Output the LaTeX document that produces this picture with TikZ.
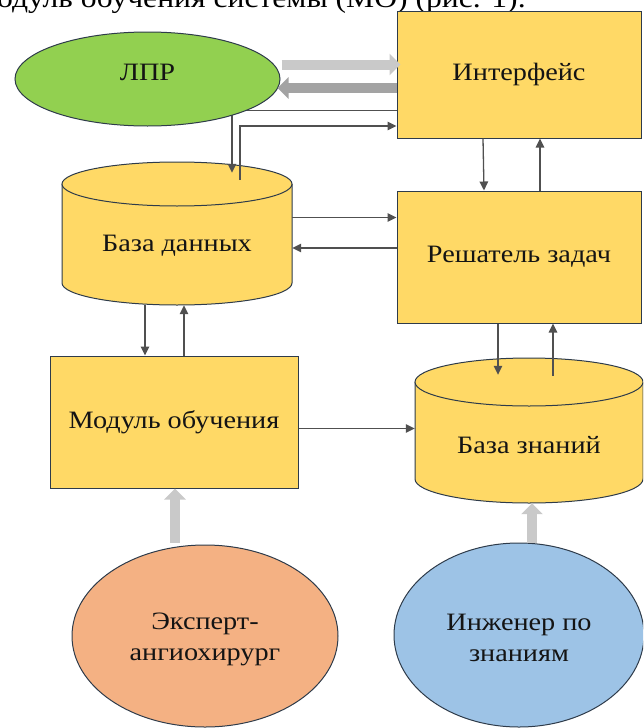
\documentclass[tikz,border=0pt]{standalone}
\usepackage{fontspec}
\setmainfont[FakeStretch=1.13]{Liberation Serif}
\usetikzlibrary{arrows.meta,shapes.geometric,calc}
\definecolor{lprgreen}{HTML}{92D050}
\definecolor{boxyellow}{HTML}{FFD966}
\definecolor{exporange}{HTML}{F4B183}
\definecolor{engblue}{HTML}{9DC3E6}
\definecolor{edgecol}{HTML}{2E3B4A}
\definecolor{thincol}{HTML}{505050}
\definecolor{thicklight}{HTML}{C9C9C9}
\definecolor{thickdark}{HTML}{A3A3A3}
\definecolor{txt}{HTML}{141414}
\begin{document}
\begin{tikzpicture}[x=1pt,y=-1pt,
  lbl/.style={text=txt,font=\fontsize{25}{31}\selectfont,align=center,inner sep=0pt},
  blk/.style={lbl,rectangle,draw=edgecol,line width=1pt,fill=boxyellow},
  ell/.style={lbl,ellipse,draw=edgecol,line width=1pt},
  cyl/.style={draw=edgecol,line width=1pt,fill=boxyellow},
  thinA/.style={draw=thincol,line width=1.3pt,-{Triangle[length=9pt,width=8.5pt]}},
  thickA/.style={draw=thicklight,line width=10pt,-{Triangle[length=11pt,width=21pt]}},
  thickB/.style={draw=thickdark,line width=10pt,-{Triangle[length=11pt,width=21pt]}}]
\useasboundingbox (0,0) rectangle (643,728);
\clip (0,0) rectangle (643,728);

% caption fragment at the top
\node[anchor=base west,inner sep=0pt,text=black,font=\fontsize{28}{30}\selectfont] (cap) at (-3,7) {одуль обучения системы (МО) (рис. 1).};

% boxes
\node[blk,minimum width=244pt,minimum height=127pt] (intf) at (519,74.5) {Интерфейс};
\node[blk,minimum width=244pt,minimum height=132pt] (solver) at (519,257) {Решатель задач};
\node[blk,minimum width=248pt,minimum height=132pt] (learn) at (174,422) {Модуль обучения};

% database cylinder
\draw[cyl] (62,184) -- (62,283) arc[start angle=180,end angle=0,x radius=115,y radius=22] -- (292,184);
\draw[cyl] (177,184) ellipse[x radius=115,y radius=22];
\node[lbl,minimum width=230pt,minimum height=118pt] (db) at (177,246) {База данных};

% knowledge base cylinder
\draw[cyl] (415,382) -- (415,479) arc[start angle=180,end angle=0,x radius=114,y radius=24] -- (643,382);
\draw[cyl] (529,382) ellipse[x radius=114,y radius=24];
\node[lbl,minimum width=228pt,minimum height=116pt] (kb) at (529,445) {База знаний};

% thin connectors interface <-> database
\draw[thinA] ([yshift=-36pt]intf.west) -| ([xshift=55pt,yshift=14pt]db.north);
\draw[thinA] ([xshift=63pt,yshift=7pt]db.north) |- ([yshift=-51.5pt]intf.west);

% interface <-> solver
\draw[thinA] ([xshift=-36pt]intf.south) -- ([xshift=-35pt]solver.north);
\draw[thinA] ([xshift=21pt]solver.north) -- ([xshift=21pt]intf.south);

% database <-> solver
\draw[thinA] ([yshift=28.5pt]db.east) -- ([yshift=39.5pt]solver.west);
\draw[thinA] ([yshift=9pt]solver.west) -- ([yshift=-2pt]db.east);

% database <-> learning module
\draw[thinA] ([xshift=-32pt]db.south) -- ([xshift=-29pt]learn.north);
\draw[thinA] ([xshift=10pt]learn.north) -- ([xshift=7pt]db.south);

% solver <-> knowledge base
\draw[thinA] ([xshift=-21pt]solver.south) -- ([xshift=-31pt,yshift=12pt]kb.north);
\draw[thinA] ([xshift=24pt,yshift=11pt]kb.north) -- ([xshift=34pt]solver.south);

% learning module -> knowledge base
\draw[thinA] ([yshift=-6.5pt]learn.east) -- ([yshift=16.5pt]kb.west);

% ellipses
\node[text=txt,font=\fontsize{25}{31}\selectfont,inner sep=0pt,ellipse,draw=edgecol,line width=1pt,
      fill=lprgreen,minimum width=265pt,minimum height=94pt,text depth=14pt] (lpr) at (147.5,79) {ЛПР};
\node[ell,fill=exporange,minimum width=266pt,minimum height=182pt] (expert) at (205,636) {\\[-8pt]Эксперт-\\ангиохирург};
\node[ell,fill=engblue,minimum width=250pt,minimum height=184pt] (eng) at (519,635) {\\[-8pt]Инженер по\\знаниям};

% thick arrows LPR <-> interface
\draw[thickA] ([xshift=1pt,yshift=14.5pt]lpr.east) -- ([xshift=4pt,yshift=10pt]intf.west);
\draw[thickB] ([yshift=-13.5pt]intf.west) -- ([xshift=-3pt,yshift=-9pt]lpr.east);

% experts -> modules
\draw[thickA] ([xshift=-30pt,yshift=2pt]expert.north) -- ([xshift=1pt]learn.south);
\draw[thickA] ([xshift=13pt]eng.north) -- ([xshift=3pt]kb.south);
\end{tikzpicture}
\end{document}
